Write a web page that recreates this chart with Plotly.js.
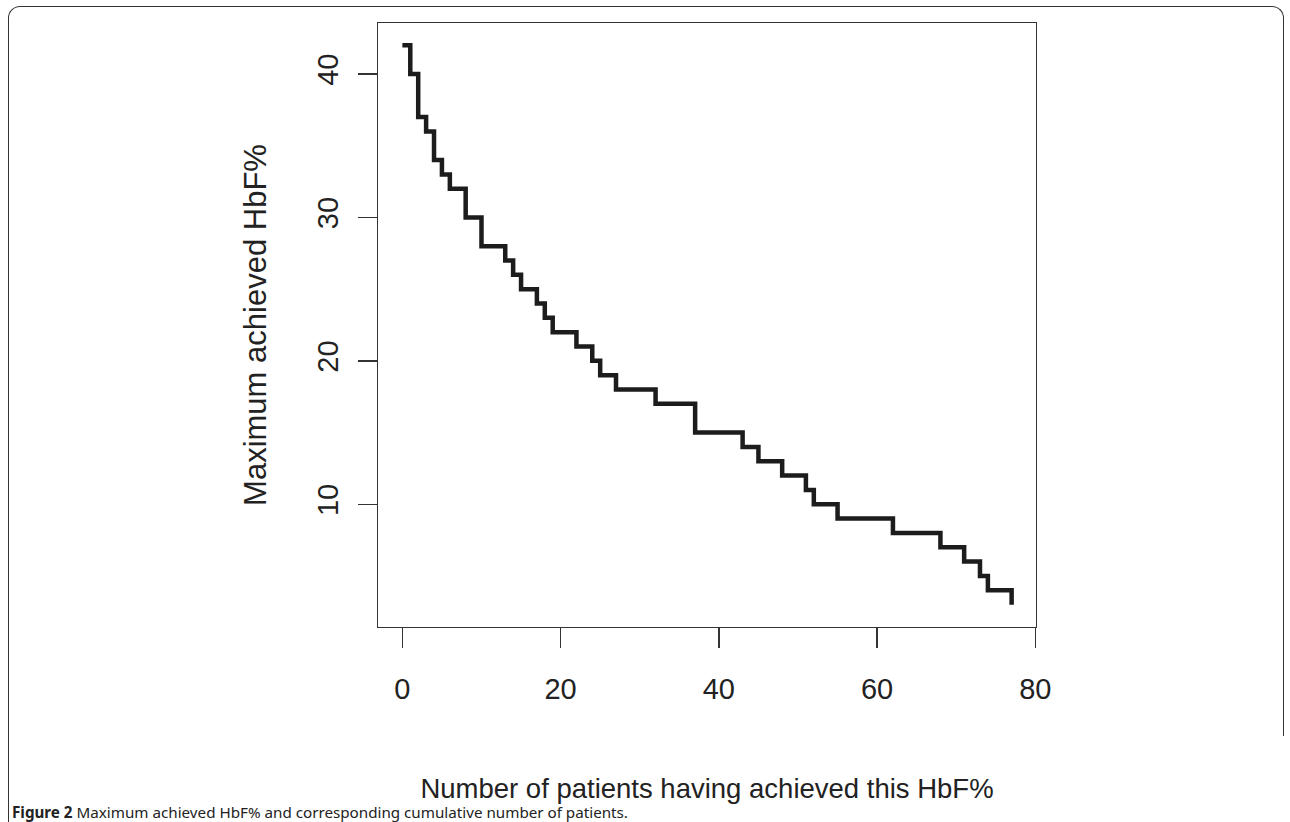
<!DOCTYPE html>
<html>
<head>
<meta charset="utf-8">
<script src="https://cdn.plot.ly/plotly-3.0.1.min.js"></script>
<style>
  html, body { margin: 0; padding: 0; background: #ffffff; }
  #wrap { position: relative; width: 1290px; height: 822px; overflow: hidden; }
  #chart { position: absolute; left: 0; top: 0; width: 1290px; height: 822px; }
  #frame { position: absolute; left: 8px; top: 6px; width: 1276px; height: 730px;
           border-top: 1.5px solid #333; border-left: 1.5px solid #333; border-right: 1.5px solid #333;
           border-top-left-radius: 12px; border-top-right-radius: 12px;
           pointer-events: none; box-sizing: border-box; }
  #frame2 { position: absolute; left: 8px; top: 735px; width: 10px; height: 100px;
           border-left: 1.5px solid #333; pointer-events: none; box-sizing: border-box; }
</style>
</head>
<body>
<div id="wrap">
  <div id="chart"></div>
  <div id="frame"></div>
  <div id="frame2"></div>
</div>
<script>
// Cumulative number of patients (x) and maximum achieved HbF% (y), step curve
const patients = [0, 1, 2, 3, 4, 5, 6, 8, 10, 13, 14, 15, 17, 18, 19, 22, 24, 25, 27, 32, 37, 43, 45, 48, 51, 52, 55, 62, 68, 71, 73, 74, 77];
const hbf      = [42, 40, 37, 36, 34, 33, 32, 30, 28, 27, 26, 25, 24, 23, 22, 21, 20, 19, 18, 17, 15, 14, 13, 12, 11, 10, 9, 8, 7, 6, 5, 4, 3];

const xTicks = [0, 20, 40, 60, 80];
const yTicks = [10, 20, 30, 40];

const xTitle = 'Number of patients having achieved this HbF%';
const yTitle = 'Maximum achieved HbF%';
const caption = '<b>Figure 2</b> Maximum achieved HbF% and corresponding cumulative number of patients.';

const axisFont = { family: 'Liberation Sans, Arial, sans-serif', size: 29, color: '#222' };
const xTitleFont = { family: 'Liberation Sans, Arial, sans-serif', size: 27.5, color: '#222' };
const yTitleFont = { family: 'Liberation Sans, Arial, sans-serif', size: 31, color: '#222' };

const trace = {
  x: patients,
  y: hbf,
  type: 'scatter',
  mode: 'lines',
  line: { shape: 'hv', color: '#1c1c1c', width: 4.5 },
  hoverinfo: 'x+y',
  showlegend: false
};

const layout = {
  width: 1290,
  height: 822,
  margin: { l: 378, r: 254, t: 23, b: 195, pad: 0 },
  paper_bgcolor: 'rgba(0,0,0,0)',
  plot_bgcolor: '#ffffff',
  showlegend: false,
  xaxis: {
    range: [-3.08, 80.08],
    tickmode: 'array',
    tickvals: xTicks,
    ticktext: xTicks.map(String),
    ticks: 'outside',
    ticklen: 20,
    tickwidth: 1.3,
    tickcolor: '#333',
    ticklabelstandoff: 16,
    showline: true,
    linecolor: '#333',
    linewidth: 1.3,
    mirror: true,
    showgrid: false,
    zeroline: false,
    tickfont: axisFont,
    title: { text: xTitle, font: xTitleFont, standoff: 74 }
  },
  yaxis: {
    range: [1.44, 43.56],
    tickmode: 'array',
    tickvals: yTicks,
    ticktext: yTicks.map(String),
    tickangle: -90,
    ticks: 'outside',
    ticklen: 19,
    tickwidth: 1.3,
    tickcolor: '#333',
    ticklabelstandoff: 8,
    showline: true,
    linecolor: '#333',
    linewidth: 1.3,
    mirror: true,
    showgrid: false,
    zeroline: false,
    tickfont: axisFont,
    title: { text: yTitle, font: yTitleFont, standoff: 36 }
  },
  annotations: [{
    text: caption,
    xref: 'paper', yref: 'paper',
    x: (10 - 378) / (1290 - 378 - 254),
    y: -(812 - 627) / (627 - 23),
    xanchor: 'left', yanchor: 'middle',
    showarrow: false,
    font: { family: 'Noto Sans, Open Sans, sans-serif', size: 15.2, color: '#222' }
  }]
};

Plotly.newPlot('chart', [trace], layout, { displayModeBar: false, staticPlot: true });
</script>
</body>
</html>
